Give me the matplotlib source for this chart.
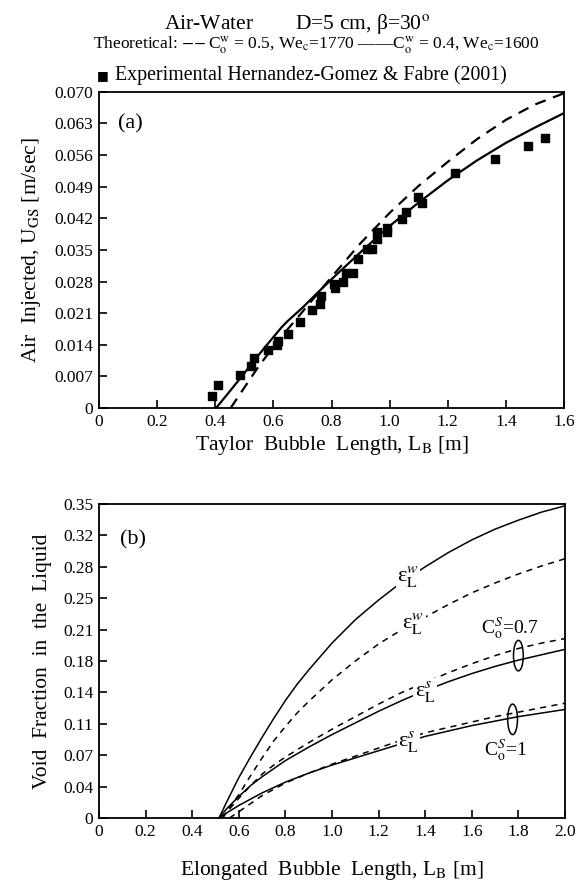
#!/usr/bin/env python3
"""
Two-panel figure: air injection vs Taylor bubble length, void fraction vs bubble length.
"""

import matplotlib
matplotlib.use('Agg')
import matplotlib.pyplot as plt
from matplotlib.patches import Ellipse

plt.rcParams['font.family'] = ['Liberation Serif', 'DejaVu Sans']
plt.rcParams['mathtext.fontset'] = 'stix'
plt.rcParams['axes.linewidth'] = 1.3

# ---- panel (a) data ----
exp_lb = [0.388, 0.408, 0.485, 0.523, 0.533, 0.583, 0.611, 0.617, 0.651, 0.692,
          0.732, 0.760, 0.763, 0.809, 0.812, 0.838, 0.849, 0.875, 0.892, 0.921,
          0.938, 0.955, 0.958, 0.990, 0.990, 1.042, 1.056, 1.097, 1.110, 1.225,
          1.363, 1.475, 1.535]
exp_ugs = [0.0027, 0.0051, 0.0072, 0.0092, 0.0110, 0.0128, 0.0140, 0.0148, 0.0163, 0.0190,
           0.0217, 0.0230, 0.0247, 0.0275, 0.0265, 0.0280, 0.0298, 0.0298, 0.0329, 0.0352,
           0.0352, 0.0374, 0.0390, 0.0390, 0.0398, 0.0419, 0.0435, 0.0468, 0.0453, 0.0520,
           0.0551, 0.0580, 0.0597]

solid_lb = [0.403, 0.45, 0.50, 0.55, 0.60, 0.63, 0.65, 0.70, 0.75, 0.80, 0.90, 1.00,
            1.10, 1.20, 1.30, 1.40, 1.50, 1.60]
solid_ugs = [0.0, 0.0037, 0.0077, 0.0118, 0.0157, 0.0180, 0.0193, 0.0222, 0.0254,
             0.0285, 0.0345, 0.0403, 0.0455, 0.0504, 0.0548, 0.0587, 0.0621, 0.0653]

dash_lb = [0.453, 0.50, 0.55, 0.60, 0.65, 0.70, 0.80, 0.90, 1.00, 1.10, 1.20, 1.30,
           1.40, 1.50, 1.60]
dash_ugs = [0.0, 0.0045, 0.0093, 0.0135, 0.0175, 0.0213, 0.0290, 0.0365, 0.0432,
            0.0492, 0.0545, 0.0595, 0.0638, 0.0672, 0.0697]

a_yticks = [0, 0.007, 0.014, 0.021, 0.028, 0.035, 0.042, 0.049, 0.056, 0.063, 0.070]
a_ylabels = ['0', '0.007', '0.014', '0.021', '0.028', '0.035', '0.042', '0.049',
             '0.056', '0.063', '0.070']
a_xticks = [0, 0.2, 0.4, 0.6, 0.8, 1.0, 1.2, 1.4, 1.6]
a_xlabels = ['0', '0.2', '0.4', '0.6', '0.8', '1.0', '1.2', '1.4', '1.6']

# ---- panel (b) data ----
w_solid_lb = [0.515, 0.55, 0.6, 0.65, 0.7, 0.75, 0.8, 0.85, 0.9, 1.0, 1.1, 1.2, 1.3,
              1.4, 1.5, 1.6, 1.7, 1.8, 1.9, 2.0]
w_solid_eps = [0.0, 0.019, 0.045, 0.068, 0.090, 0.111, 0.131, 0.149, 0.165, 0.195,
               0.221, 0.243, 0.263, 0.280, 0.296, 0.310, 0.322, 0.332, 0.341, 0.348]

w_dash_lb = [0.53, 0.55, 0.6, 0.65, 0.7, 0.75, 0.8, 0.85, 0.9, 1.0, 1.1, 1.2, 1.3,
             1.4, 1.5, 1.6, 1.7, 1.8, 1.9, 2.0]
w_dash_eps = [0.0, 0.008, 0.026, 0.047, 0.067, 0.086, 0.102, 0.117, 0.130, 0.154,
              0.175, 0.194, 0.210, 0.224, 0.238, 0.251, 0.262, 0.272, 0.281, 0.289]

s07_solid_lb = [0.515, 0.55, 0.6, 0.65, 0.7, 0.75, 0.8, 0.9, 1.0, 1.1, 1.2, 1.3,
                1.4, 1.5, 1.6, 1.7, 1.8, 1.9, 2.0]
s07_solid_eps = [0.0, 0.011, 0.024, 0.036, 0.046, 0.055, 0.064, 0.079, 0.093, 0.106,
                 0.119, 0.131, 0.142, 0.152, 0.161, 0.169, 0.176, 0.182, 0.188]

s07_dash_lb = [0.53, 0.55, 0.6, 0.65, 0.7, 0.75, 0.8, 0.9, 1.0, 1.1, 1.2, 1.3,
               1.4, 1.5, 1.6, 1.7, 1.8, 1.9, 2.0]
s07_dash_eps = [0.0, 0.007, 0.022, 0.036, 0.049, 0.059, 0.068, 0.084, 0.099, 0.113,
                0.127, 0.140, 0.151, 0.162, 0.172, 0.181, 0.189, 0.195, 0.200]

s1_solid_lb = [0.515, 0.55, 0.6, 0.65, 0.7, 0.75, 0.8, 0.9, 1.0, 1.1, 1.2, 1.3,
               1.4, 1.5, 1.6, 1.7, 1.8, 1.9, 2.0]
s1_solid_eps = [0.0, 0.006, 0.014, 0.021, 0.028, 0.034, 0.040, 0.050, 0.059, 0.067,
                0.075, 0.083, 0.091, 0.097, 0.103, 0.108, 0.113, 0.117, 0.121]

s1_dash_lb = [0.56, 0.6, 0.65, 0.7, 0.75, 0.8, 0.9, 1.0, 1.1, 1.2, 1.3,
              1.4, 1.5, 1.6, 1.7, 1.8, 1.9, 2.0]
s1_dash_eps = [0.0, 0.007, 0.016, 0.025, 0.032, 0.039, 0.050, 0.060, 0.069, 0.078,
               0.087, 0.095, 0.101, 0.107, 0.113, 0.118, 0.123, 0.128]

b_yticks = [0, 0.035, 0.07, 0.105, 0.14, 0.175, 0.21, 0.245, 0.28, 0.315, 0.35]
b_ylabels = ['0', '0.04', '0.07', '0.11', '0.14', '0.18', '0.21', '0.25', '0.28',
             '0.32', '0.35']
b_xticks = [0, 0.2, 0.4, 0.6, 0.8, 1.0, 1.2, 1.4, 1.6, 1.8, 2.0]
b_xlabels = ['0', '0.2', '0.4', '0.6', '0.8', '1.0', '1.2', '1.4', '1.6', '1.8', '2.0']


def style_axes(ax):
    ax.tick_params(direction='in', length=6, width=1.2, labelsize=12.5,
                   top=False, right=False, pad=4)
    for s in ax.spines.values():
        s.set_linewidth(1.3)


fig = plt.figure(figsize=(5.77, 8.83), dpi=100)

# ---------------- panel (a) ----------------
ax1 = fig.add_axes([0.1716, 0.538, 0.806, 0.358])
ax1.plot(dash_lb, dash_ugs, color='black', linestyle=(0, (5, 3.5)), linewidth=1.6)
ax1.plot(solid_lb, solid_ugs, color='black', linestyle='-', linewidth=1.6)
ax1.scatter(exp_lb, exp_ugs, marker='s', s=40, color='black', zorder=3)
ax1.set_xlim(0, 1.6)
ax1.set_ylim(0, 0.070)
ax1.set_xticks(a_xticks)
ax1.set_xticklabels(a_xlabels)
ax1.set_yticks(a_yticks)
ax1.set_yticklabels(a_ylabels)
style_axes(ax1)
ax1.set_xlabel(r'Taylor  Bubble  Length, L$_\mathrm{B}$ [m]', fontsize=15.5, labelpad=3)
ax1.set_ylabel(r'Air  Injected, U$_\mathrm{GS}$ [m/sec]', fontsize=15.5, labelpad=8)
ax1.text(0.107, 0.063, '(a)', fontsize=16, ha='center', va='center')

# ---------------- panel (b) ----------------
ax2 = fig.add_axes([0.1716, 0.0736, 0.8076, 0.3556])
dash = (0, (4, 3.5))
ax2.plot(w_solid_lb, w_solid_eps, color='black', linewidth=1.1)
ax2.plot(w_dash_lb, w_dash_eps, color='black', linewidth=1.1, linestyle=dash)
ax2.plot(s07_solid_lb, s07_solid_eps, color='black', linewidth=1.1)
ax2.plot(s07_dash_lb, s07_dash_eps, color='black', linewidth=1.1, linestyle=dash)
ax2.plot(s1_solid_lb, s1_solid_eps, color='black', linewidth=1.1)
ax2.plot(s1_dash_lb, s1_dash_eps, color='black', linewidth=1.1, linestyle=dash)
ax2.set_xlim(0, 2.0)
ax2.set_ylim(0, 0.35)
ax2.set_xticks(b_xticks)
ax2.set_xticklabels(b_xlabels)
ax2.set_yticks(b_yticks)
ax2.set_yticklabels(b_ylabels)
style_axes(ax2)
ax2.set_xlabel(r'Elongated  Bubble  Length, L$_\mathrm{B}$ [m]', fontsize=15.5, labelpad=14)
ax2.set_ylabel('Void  Fraction  in  the  Liquid', fontsize=15.5, labelpad=8)
ax2.text(0.146, 0.31, '(b)', fontsize=16, ha='center', va='center')

bbox = dict(facecolor='white', edgecolor='none', pad=1)
eps_w = '\u03b5' + r'$_\mathrm{L}^{w}$'
eps_s = '\u03b5' + r'$_\mathrm{L}^{s}$'
ax2.text(1.327, 0.269, eps_w, fontsize=16, ha='center', va='center', bbox=bbox)
ax2.text(1.349, 0.217, eps_w, fontsize=16, ha='center', va='center', bbox=bbox)
ax2.text(1.40, 0.141, eps_s, fontsize=16, ha='center', va='center', bbox=bbox)
ax2.text(1.328, 0.085, eps_s, fontsize=16, ha='center', va='center', bbox=bbox)
ax2.text(1.764, 0.212, r'C$_\mathrm{o}^{S}$=0.7', fontsize=14, ha='center', va='center')
ax2.text(1.742, 0.076, r'C$_\mathrm{o}^{S}$=1', fontsize=14, ha='center', va='center')
ax2.add_patch(Ellipse((1.80, 0.181), 0.042, 0.034, fill=False, edgecolor='black',
                      linewidth=1.1))
ax2.add_patch(Ellipse((1.775, 0.110), 0.042, 0.034, fill=False, edgecolor='black',
                      linewidth=1.1))

# ---------------- header text ----------------
fig.text(0.515, 0.973, 'Air-Water        D=5 cm, \u03b2=30' + r'$^\mathrm{o}$', fontsize=15.5,
         ha='center', va='center')
fig.text(0.548, 0.949,
         r'Theoretical: $-\!-$C$_\mathrm{o}^\mathrm{w}$ = 0.5, We$_\mathrm{c}$=1770 '
         r'——C$_\mathrm{o}^\mathrm{w}$ = 0.4, We$_\mathrm{c}$=1600',
         fontsize=12.5, ha='center', va='center')
fig.text(0.168, 0.915, '\u25a0', fontsize=9, ha='left', va='center',
         family=['DejaVu Sans'])
fig.text(0.199, 0.915, 'Experimental Hernandez-Gomez & Fabre (2001)', fontsize=14.3,
         ha='left', va='center')

plt.savefig('out.png', dpi=100, facecolor='white')
plt.close()
